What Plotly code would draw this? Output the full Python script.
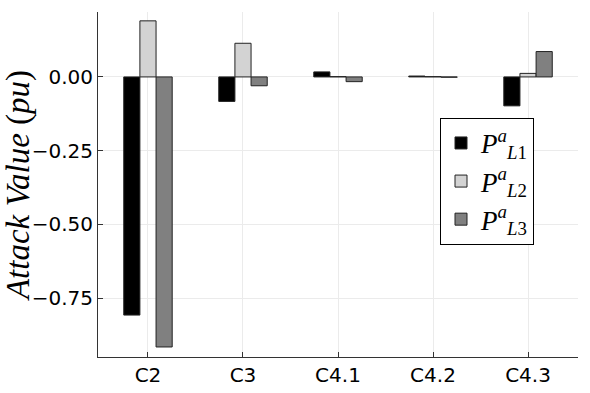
import plotly.graph_objects as go

categories = ["C2", "C3", "C4.1", "C4.2", "C4.3"]
p_l1 = [-0.807, -0.083, 0.017, 0.003, -0.098]
p_l2 = [0.190, 0.114, 0.001, 0.001, 0.012]
p_l3 = [-0.915, -0.030, -0.016, -0.001, 0.086]
series_names = [
    "<i>P</i><sup><i>a</i></sup><sub><i>L</i>1</sub>",
    "<i>P</i><sup><i>a</i></sup><sub><i>L</i>2</sub>",
    "<i>P</i><sup><i>a</i></sup><sub><i>L</i>3</sub>",
]
colors = ["#000000", "#d3d3d3", "#808080"]
y_ticks = [0.0, -0.25, -0.5, -0.75]

fig = go.Figure()
for name, vals, col in zip(series_names, [p_l1, p_l2, p_l3], colors):
    fig.add_trace(go.Bar(
        x=categories, y=vals, name=name,
        marker=dict(color=col, line=dict(color="#222222", width=1)),
    ))

fig.update_layout(
    width=590, height=393,
    margin=dict(l=98, r=12, t=12, b=36, autoexpand=False),
    paper_bgcolor="white", plot_bgcolor="white",
    barmode="group", bargap=0.49, bargroupgap=0,
    font=dict(family="DejaVu Sans", size=20, color="black"),
    legend=dict(
        x=0.7125, y=0.693, xanchor="left", yanchor="top",
        bgcolor="white", bordercolor="black", borderwidth=1,
        font=dict(family="Liberation Serif", size=27),
        tracegroupgap=0, itemwidth=30,
    ),
    showlegend=True,
)
fig.update_xaxes(
    type="category", range=[-0.526, 4.526], automargin=False,
    showline=True, linecolor="#333333", linewidth=1,
    showgrid=True, gridcolor="#ebebeb", gridwidth=1,
    ticks="inside", ticklen=5, tickcolor="#333333",
    tickfont=dict(family="DejaVu Sans", size=20),
    zeroline=False, mirror=False,
)
fig.update_yaxes(
    range=[-0.949, 0.22], automargin=False,
    tickvals=y_ticks, ticktext=["0.00", "\u22120.25", "\u22120.50", "\u22120.75"],
    showline=True, linecolor="#333333", linewidth=1,
    showgrid=True, gridcolor="#ebebeb", gridwidth=1,
    ticks="inside", ticklen=5, tickcolor="#333333",
    tickfont=dict(family="DejaVu Sans", size=20),
    zeroline=False, mirror=False,
    title=dict(text="<i>Attack Value</i> (<i>pu</i>)",
               font=dict(family="Liberation Serif", size=33), standoff=4),
)

fig.write_html("out.html", config={"displayModeBar": False},
               post_script="document.body.style.margin='0';")
